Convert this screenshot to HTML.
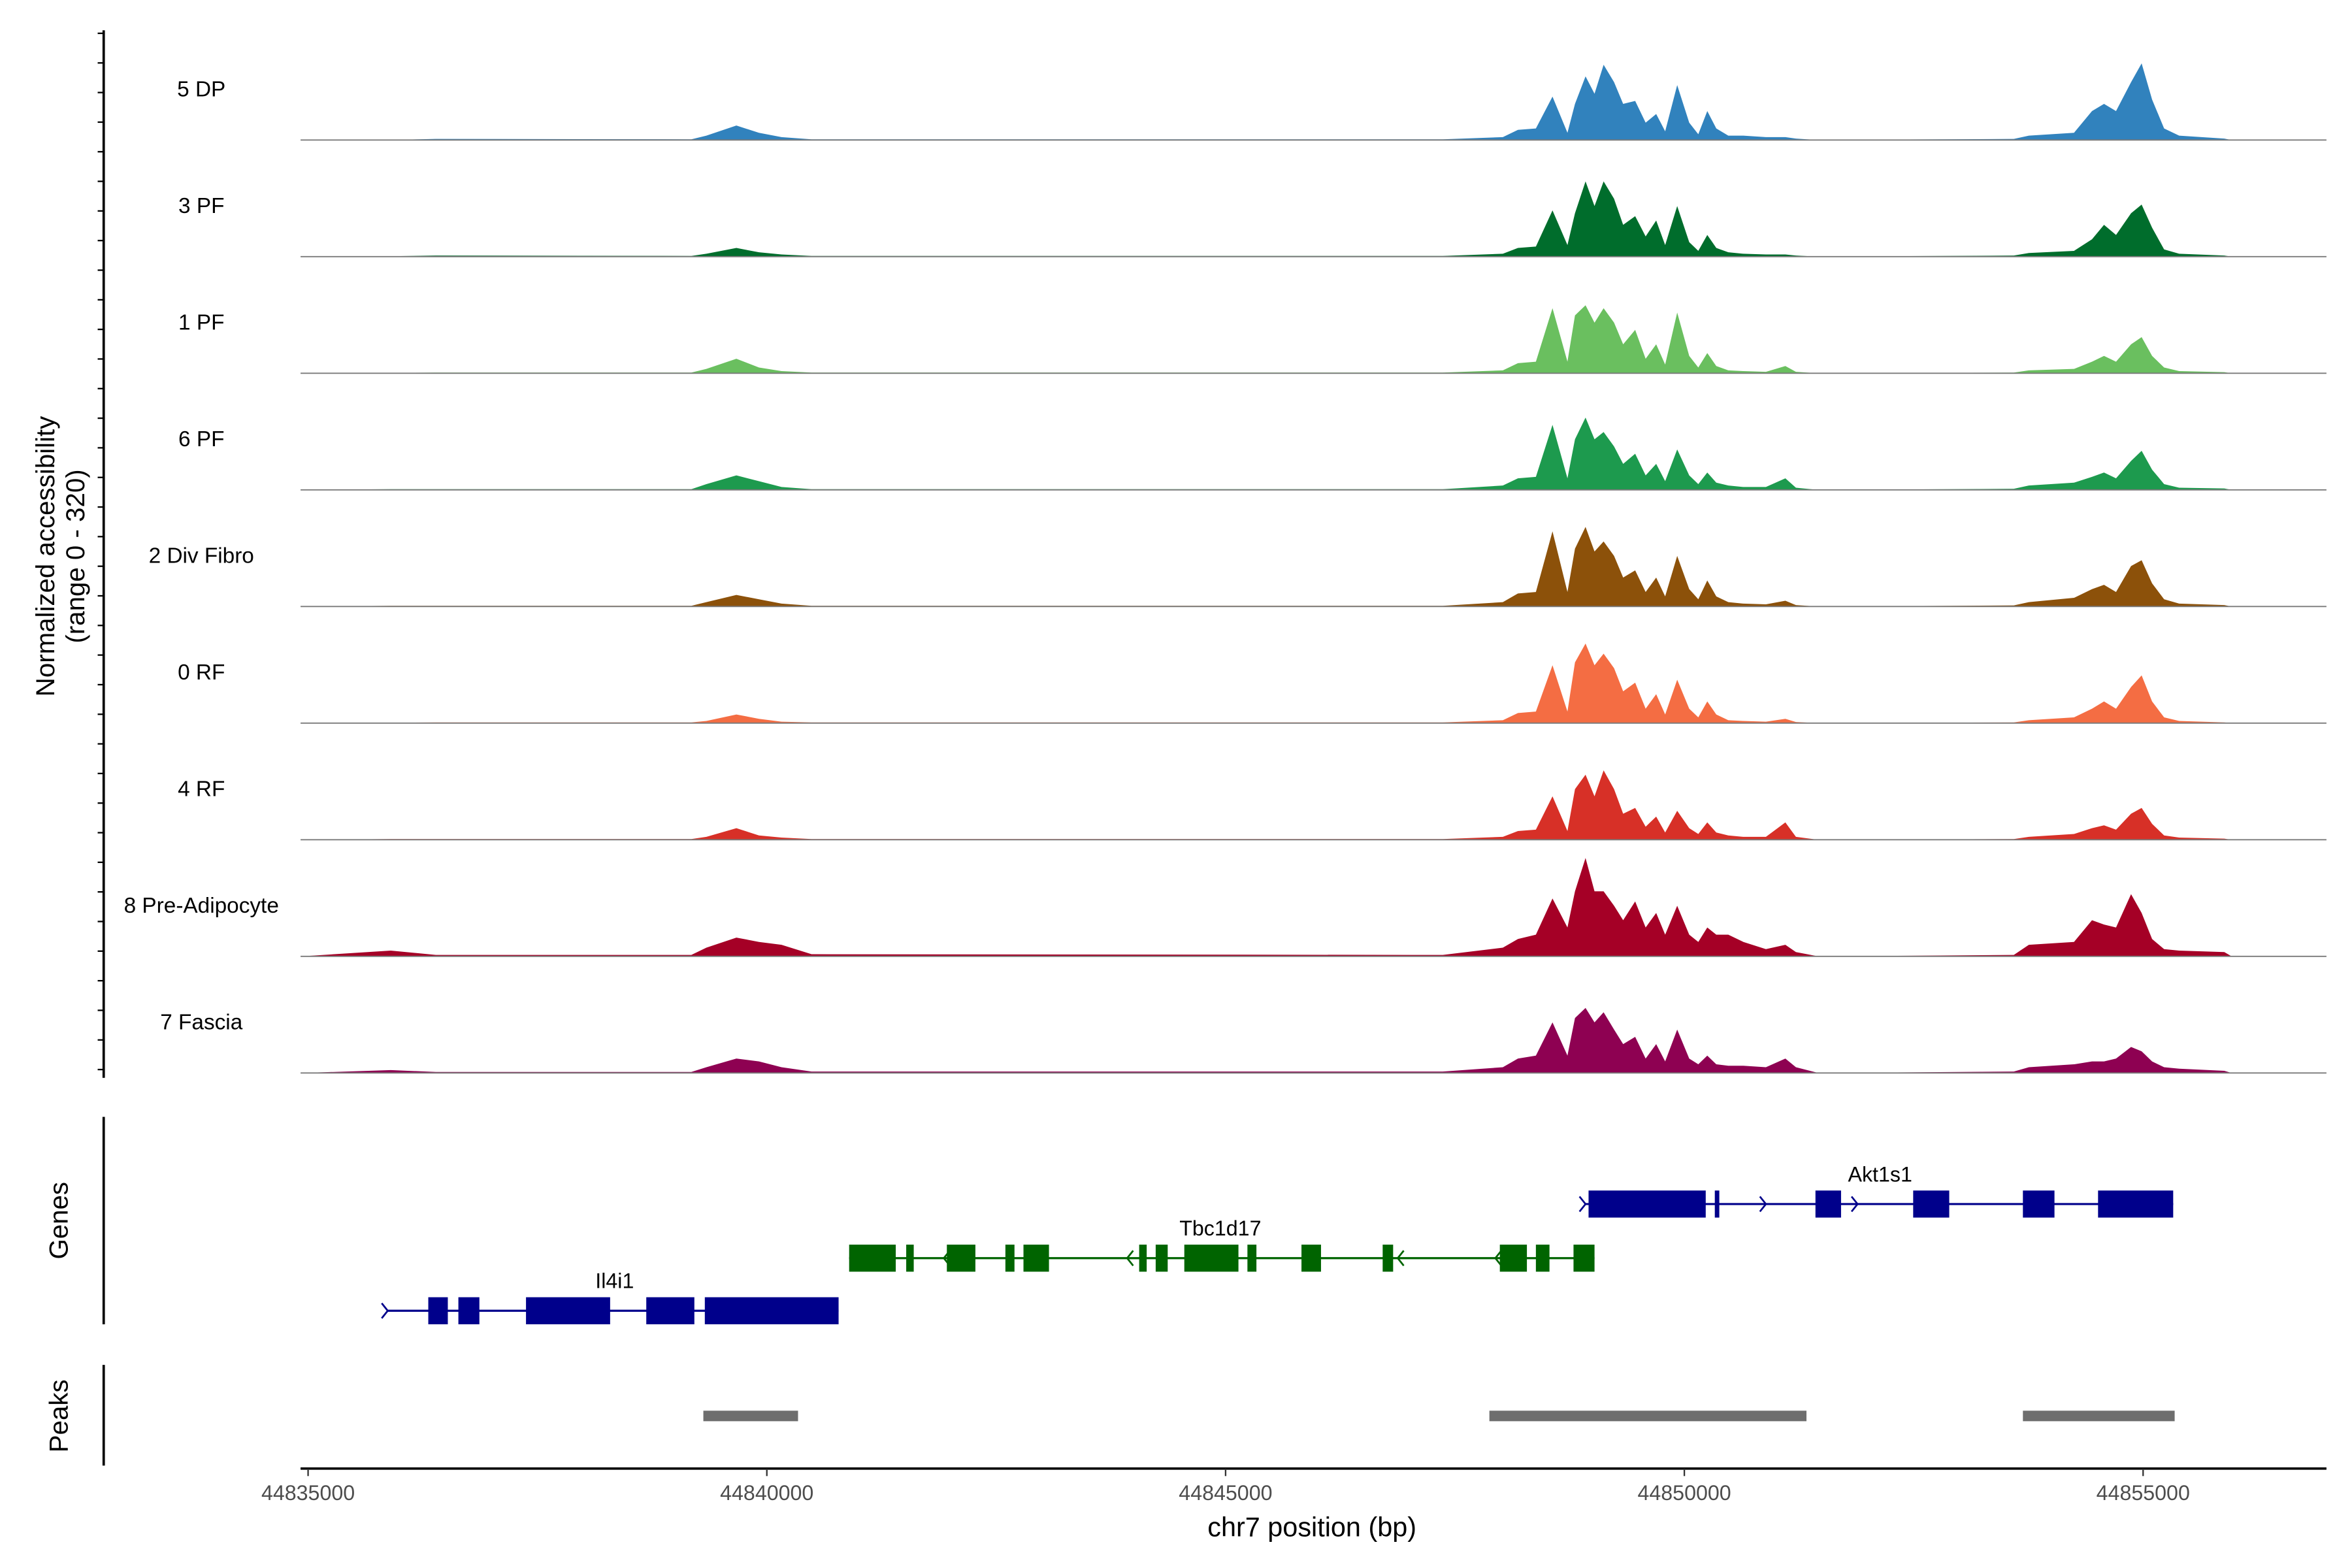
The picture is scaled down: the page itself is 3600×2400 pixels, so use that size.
<!DOCTYPE html>
<html><head><meta charset="utf-8"><style>html,body{margin:0;padding:0;background:#fff}svg{display:block;font-family:"Liberation Sans",sans-serif}</style></head>
<body>
<svg id="chart" width="3600" height="2400" viewBox="0 0 1565 1043" xmlns="http://www.w3.org/2000/svg">
<g id="tracks"></g>
<g id="genes"></g>
<g id="peaks"></g>
<g id="axes"></g>
</svg>
<script>
const positions = [-82,901,1392,4177,4341,4668,4914,5160,5487,12367,13022,13186,13382,13563,13726,13808,13923,14021,14120,14234,14333,14464,14578,14693,14791,14922,15053,15152,15250,15348,15479,15643,15889,16101,16216,16462,18591,18755,19247,19443,19574,19705,19869,19984,20098,20229,20393,20885,20966];
const trackNames = ["5 DP","3 PF","1 PF","6 PF","2 Div Fibro","0 RF","4 RF","8 Pre-Adipocyte","7 Fascia"];
const trackColors = ["#3182bd","#006d2c","#6abf5f","#1d9a4e","#8c510a","#f46d43","#d73027","#a50026","#8e0152"];
const valsDP = [0,0,3,2,12,40,20,8,2,2,8,28,32,120,20,100,176,128,208,160,100,108,48,72,24,152,48,16,80,32,12,12,8,8,4,0,3,12,20,80,100,80,160,212,112,32,12,4,0];
const vals3PF = [0,1,3,2,8,24,12,6,2,2,8,24,28,128,32,120,208,140,208,160,88,112,56,100,32,140,40,16,60,24,12,8,6,6,3,0,3,10,16,48,88,60,120,144,80,20,8,3,0];
const vals1PF = [0,1,2,2,12,40,16,6,2,2,8,28,32,180,32,160,188,140,180,140,80,120,40,80,24,168,48,16,56,20,8,6,4,20,4,0,2,8,12,32,48,32,80,100,48,16,6,3,0];
const vals6PF = [0,2,2,2,16,40,24,8,2,2,12,32,36,180,32,140,200,140,160,120,72,100,40,72,24,112,40,16,48,20,12,8,8,32,6,0,3,12,20,36,48,32,80,108,56,16,6,4,0];
const vals2DF = [0,2,2,2,12,32,20,8,2,2,12,36,40,208,40,160,220,152,180,140,80,100,40,80,28,140,48,20,72,28,12,8,6,16,4,0,3,12,24,48,60,40,112,128,64,20,8,4,0];
const vals0RF = [0,1,2,2,6,24,12,4,2,2,8,28,32,160,32,168,220,160,192,152,88,112,40,80,24,120,40,16,60,24,8,6,4,12,3,0,2,8,16,40,60,40,100,132,60,16,6,2,0];
const vals4RF = [0,2,2,2,8,32,12,6,2,2,8,24,28,120,24,140,180,120,192,140,72,88,36,64,20,80,32,16,48,20,12,8,8,48,8,0,2,8,16,32,40,28,72,88,44,12,6,3,0];
const vals8PA = [0,16,4,4,24,52,40,32,6,4,24,48,60,160,80,180,272,180,180,140,100,152,80,120,60,140,60,40,80,60,60,40,20,32,12,0,4,32,40,100,88,80,172,120,48,20,16,12,0];
const vals7FA = [0,8,3,3,16,40,32,16,4,4,16,40,48,140,48,152,180,140,168,120,80,100,40,80,32,120,40,24,48,24,20,20,16,40,16,0,4,16,24,32,32,40,72,60,32,16,12,6,0];
const trackValues = [valsDP,vals3PF,vals1PF,vals6PF,vals2DF,vals0RF,vals4RF,vals8PA,vals7FA];
const xTicks = [44835000,44840000,44845000,44850000,44855000];
const il4i1Exons = [[1310,1523],[1638,1867],[2375,3292],[3686,4210],[4324,5782]];
const il4i1Span = [868,5782];
const tbcExons = [[5897,6405],[6519,6601],[6962,7273],[7600,7699],[7797,8075],[9058,9140],[9238,9369],[9550,10140],[10238,10336],[10827,11040],[11712,11826],[12989,13284],[13382,13530],[13792,14021]];
const tbcSpan = [5897,14021];
const tbcArrows = [6929,8927,11876,12940];
const aktExons = [[13956,15233],[15332,15381],[16429,16708],[17494,17887],[18690,19034],[19509,20328]];
const aktSpan = [13923,20328];
const aktArrows = [13923,15889,16888];
const il4i1Arrows = [868];
const peakRanges = [[4308,5340],[12875,16331],[18690,20344]];

const NS="http://www.w3.org/2000/svg";
const X0=44835000;
function x(bp){return 205+(bp)*0.06105;}
function xa(bp){return 205+(bp-X0)*0.06105;}
const baseY0=93, trackStep=77.6, yMax=320, trackH=77;
function y(v,i){return baseY0+i*trackStep - v/yMax*trackH;}
function mk(tag,attrs,parent){const e=document.createElementNS(NS,tag);for(const k in attrs)e.setAttribute(k,attrs[k]);parent.appendChild(e);return e;}
const tg=document.getElementById('tracks');
trackValues.forEach((vals,i)=>{
  const b=y(0,i);
  let pts=x(positions[0]).toFixed(2)+','+b;
  vals.forEach((v,j)=>{pts+=' '+x(positions[j]).toFixed(2)+','+y(v,i).toFixed(2);});
  pts+=' '+x(positions[positions.length-1]).toFixed(2)+','+b;
  const p=mk('polygon',{points:pts,fill:trackColors[i]},tg);
  
  
  const l=mk('line',{x1:200,x2:1548,y1:b,y2:b,stroke:'#7a7a7a','stroke-width':0.8},tg);
  
  
  const t=mk('text',{x:134,y:b-29,'text-anchor':'middle','font-size':14.5,fill:'#000'},tg);
  t.textContent=trackNames[i];
  
  
});
const ax=document.getElementById('axes');
function line(a,b,c,d,w,col,name){const l=mk('line',{x1:a,y1:b,x2:c,y2:d,stroke:col,'stroke-width':w},ax);return l;}
line(69,20,69,717,1.6,'#000','y-axis-line');
for(let k=0;k<=35;k++){const yy=22+k*19.7;if(yy>716)break;line(65,yy,69,yy,1,'#000','y-axis-tick');}
line(69,743,69,881,1.6,'#000','genes-axis-line');
line(69,908,69,975,1.6,'#000','peaks-axis-line');
line(200,977,1548,977,1.6,'#000','x-axis-line');
xTicks.forEach(t=>{
  line(xa(t),977,xa(t),982,1,'#333','x-axis-tick');
  const tx=mk('text',{x:xa(t),y:998,'text-anchor':'middle','font-size':14,fill:'#4d4d4d'},ax);
  tx.textContent=String(t);
  
  
});
function txt(s,attrs,name,parent){const t=mk('text',attrs,parent||ax);t.textContent=s;return t;}
txt('chr7 position (bp)',{x:873,y:1022,'text-anchor':'middle','font-size':18,fill:'#000'},'x-axis-title');
txt('Normalized accessibility',{x:0,y:0,transform:'translate(36,370) rotate(-90)','text-anchor':'middle','font-size':17.5,fill:'#000'},'y-axis-title');
txt('(range 0 - 320)',{x:0,y:0,transform:'translate(56,370) rotate(-90)','text-anchor':'middle','font-size':17.5,fill:'#000'},'y-axis-range');
txt('Genes',{x:0,y:0,transform:'translate(45,812) rotate(-90)','text-anchor':'middle','font-size':17.5,fill:'#000'},'genes-axis-title');
txt('Peaks',{x:0,y:0,transform:'translate(45,942) rotate(-90)','text-anchor':'middle','font-size':17.5,fill:'#000'},'peaks-axis-title');

const gg=document.getElementById('genes');
function gene(name,span,exons,arrows,dir,cy,col,lx){
  const l=mk('line',{x1:x(span[0]),x2:x(span[1]),y1:cy,y2:cy,stroke:col,'stroke-width':1.4},gg);
  
  
  exons.forEach(e=>{
    const r=mk('rect',{x:x(e[0]),y:cy-9,width:Math.max(1.5,x(e[1])-x(e[0])),height:18,fill:col},gg);
    
    
  });
  arrows.forEach(a=>{
    const ax0=x(a), d=dir*4;
    const p=mk('polyline',{points:`${ax0-d},${cy-5} ${ax0},${cy} ${ax0-d},${cy+5}`,fill:'none',stroke:col,'stroke-width':1.2},gg);
    
    
  });
  txt(name,{x:lx,y:cy-15,'text-anchor':'middle','font-size':14,fill:'#000'},'gene-label',gg);
}
gene('Il4i1',il4i1Span,il4i1Exons,il4i1Arrows,1,872,'#00008b',409);
gene('Tbc1d17',tbcSpan,tbcExons,tbcArrows,-1,837,'#006400',812);
gene('Akt1s1',aktSpan,aktExons,aktArrows,1,801,'#00008b',1251);
const pg=document.getElementById('peaks');
peakRanges.forEach(r=>{
  const e=mk('rect',{x:x(r[0]),y:938.5,width:x(r[1])-x(r[0]),height:7,fill:'#6e6e6e'},pg);
  
  
});
</script>
</body></html>
